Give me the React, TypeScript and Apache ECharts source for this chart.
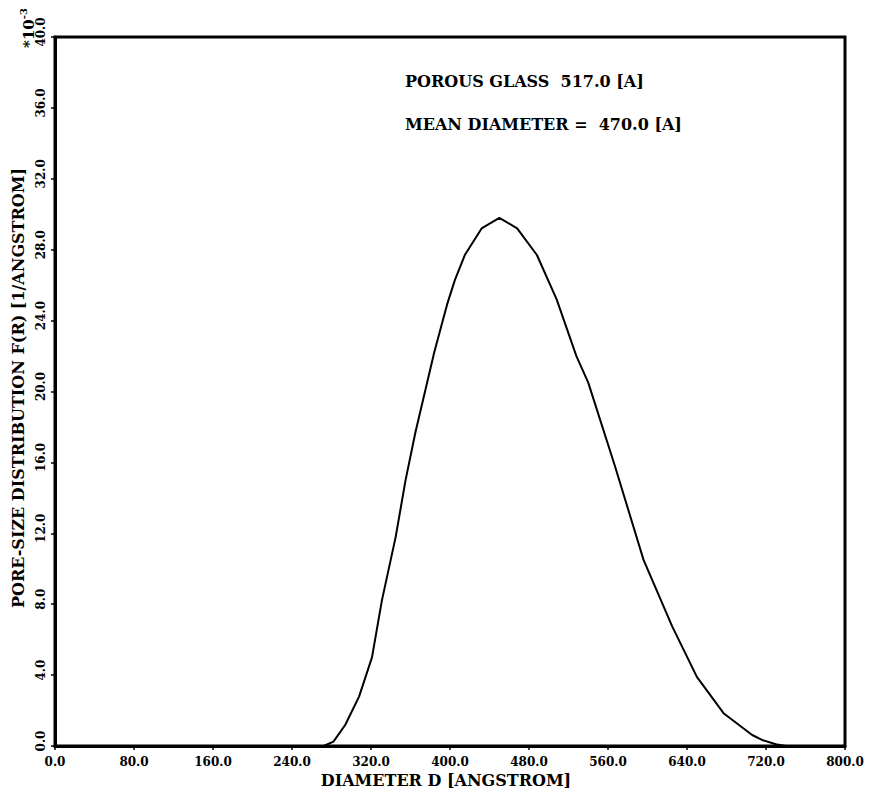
import React, { useEffect, useRef } from "react";
import * as echarts from "echarts";

const diameters = [0, 272, 282, 294, 308, 321, 331, 345, 355, 365, 384, 397, 405, 415, 432, 450, 468, 488, 508, 528, 540, 567, 596, 625, 650, 677, 706, 716, 730, 740];
const distribution = [0, 0, 0.25, 1.2, 2.8, 5.0, 8.2, 11.8, 15.0, 17.7, 22.2, 24.9, 26.3, 27.7, 29.2, 29.8, 29.2, 27.7, 25.2, 22.0, 20.5, 15.8, 10.5, 6.75, 3.9, 1.85, 0.62, 0.34, 0.1, 0];
const annotationLines = ["POROUS GLASS  517.0 [A]", "MEAN DIAMETER =  470.0 [A]"];
const xTitle = "DIAMETER D [ANGSTROM]";
const yTitle = "PORE-SIZE DISTRIBUTION F(R) [1/ANGSTROM]";

const FONT = "'DejaVu Serif', 'Liberation Serif', serif";

export default function App() {
  const ref = useRef<HTMLDivElement>(null);
  useEffect(() => {
    if (!ref.current) return;
    const chart = echarts.init(ref.current, null, { renderer: "svg" });
    const data = diameters.map((d, i) => [d, distribution[i]]);
    chart.setOption({
      animation: false,
      backgroundColor: "#fff",
      grid: { left: 55, right: 27, top: 37, bottom: 50, show: true, borderColor: "#000", borderWidth: 3, backgroundColor: "transparent" },
      xAxis: {
        type: "value",
        min: 0,
        max: 800,
        interval: 80,
        axisLine: { show: true, lineStyle: { color: "#000", width: 3 } },
        axisTick: { show: true, inside: false, length: 4, lineStyle: { color: "#000", width: 1.5 } },
        splitLine: { show: false },
        axisLabel: {
          margin: 10,
          color: "#000",
          fontFamily: FONT,
          fontWeight: "bold",
          fontSize: 12,
          formatter: (v: number) => v.toFixed(1),
        },
      },
      yAxis: {
        type: "value",
        min: 0,
        max: 40,
        interval: 4,
        axisLine: { show: true, lineStyle: { color: "#000", width: 3 } },
        axisTick: { show: true, inside: false, length: 4, lineStyle: { color: "#000", width: 1.5 } },
        splitLine: { show: false },
        axisLabel: {
          margin: 8,
          rotate: 90,
          color: "#000",
          fontFamily: FONT,
          fontWeight: "bold",
          fontSize: 12,
          padding: [0, 0, 0, 10],
          formatter: (v: number) => v.toFixed(1),
        },
      },
      series: [
        {
          type: "line",
          data,
          symbol: "none",
          smooth: false,
          lineStyle: { color: "#000", width: 2 },
        },
      ],
      graphic: [
        {
          type: "text",
          left: 405,
          top: 73,
          style: { text: annotationLines[0], font: `bold 16px ${FONT}`, fill: "#000" },
        },
        {
          type: "text",
          left: 405,
          top: 116,
          style: { text: annotationLines[1], font: `bold 16px ${FONT}`, fill: "#000" },
        },
        {
          type: "text",
          x: 446,
          y: 780,
          style: { text: xTitle, font: `bold 16px ${FONT}`, fill: "#000", align: "center", verticalAlign: "middle" },
        },
        {
          type: "text",
          x: 18,
          y: 388,
          rotation: Math.PI / 2,
          style: { text: yTitle, font: `bold 16px ${FONT}`, fill: "#000", align: "center", verticalAlign: "middle" },
        },
        {
          type: "text",
          x: 27,
          y: 28,
          rotation: Math.PI / 2,
          style: {
            text: "{b|*10}{s|-3}",
            align: "center",
            verticalAlign: "middle",
            fill: "#000",
            rich: {
              b: { font: `bold 15px ${FONT}`, fill: "#000", verticalAlign: "bottom" },
              s: { font: `bold 10px ${FONT}`, fill: "#000", verticalAlign: "top", padding: [0, 0, 8, 0] },
            },
          },
        },
      ],
    });
    return () => chart.dispose();
  }, []);
  return <div ref={ref} style={{ position: "absolute", left: 0, top: 0, width: 872, height: 796 }} />;
}
